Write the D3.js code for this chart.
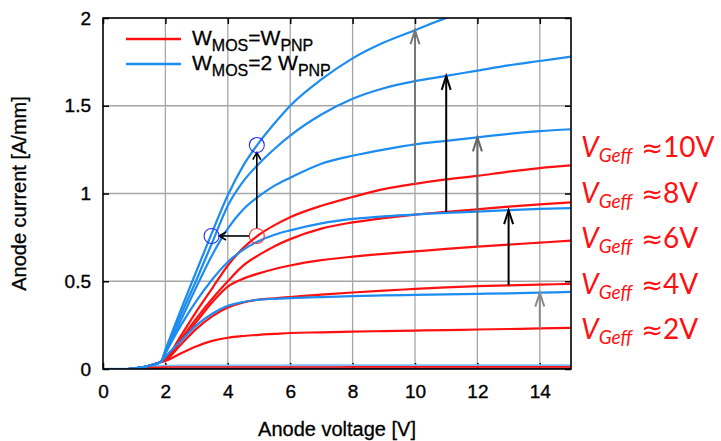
<!DOCTYPE html>
<html>
<head>
<meta charset="utf-8">
<script src="https://cdn.jsdelivr.net/npm/d3@7"></script>
<style>
  body { margin: 0; background: #fff; }
  svg { display: block; }
</style>
</head>
<body>
<div id="chart"></div>
<script>
// anode voltage sample points [V]
const vGrid = [0, 0.8, 1.2, 1.5, 1.85, 2, 2.5, 3, 3.5, 4, 4.5, 5, 5.5, 6, 7, 8, 9, 10, 11, 12, 13, 14, 15];

// anode current [A/mm], W_MOS = W_PNP
const red2  = [0, 0, 0.008, 0.02, 0.04, 0.046, 0.09, 0.13, 0.16, 0.178, 0.188, 0.195, 0.2, 0.205, 0.209, 0.213, 0.216, 0.219, 0.222, 0.225, 0.228, 0.231, 0.234];
const red4  = [0, 0, 0.008, 0.02, 0.04, 0.05, 0.14, 0.23, 0.30, 0.35, 0.38, 0.395, 0.403, 0.41, 0.424, 0.436, 0.447, 0.456, 0.465, 0.472, 0.477, 0.481, 0.485];
const red6  = [0, 0, 0.008, 0.02, 0.04, 0.052, 0.16, 0.27, 0.38, 0.47, 0.515, 0.545, 0.57, 0.59, 0.62, 0.64, 0.656, 0.67, 0.684, 0.697, 0.709, 0.72, 0.731];
const red8  = [0, 0, 0.008, 0.02, 0.04, 0.054, 0.17, 0.29, 0.40, 0.50, 0.59, 0.65, 0.70, 0.74, 0.80, 0.835, 0.86, 0.88, 0.895, 0.91, 0.925, 0.938, 0.95];
const red10 = [0, 0, 0.008, 0.02, 0.04, 0.056, 0.19, 0.33, 0.46, 0.59, 0.69, 0.765, 0.82, 0.865, 0.93, 0.98, 1.025, 1.055, 1.08, 1.10, 1.125, 1.145, 1.16];

// anode current [A/mm], W_MOS = 2 W_PNP
const blue2  = [0, 0, 0.008, 0.02, 0.04, 0.07, 0.16, 0.25, 0.315, 0.36, 0.382, 0.395, 0.4, 0.404, 0.41, 0.415, 0.419, 0.422, 0.425, 0.428, 0.431, 0.435, 0.439];
const blue4  = [0, 0, 0.008, 0.02, 0.04, 0.09, 0.25, 0.39, 0.51, 0.61, 0.68, 0.73, 0.765, 0.79, 0.83, 0.855, 0.87, 0.88, 0.89, 0.897, 0.905, 0.912, 0.917];
const blue6  = [0, 0, 0.008, 0.02, 0.04, 0.09, 0.28, 0.47, 0.65, 0.80, 0.91, 0.985, 1.045, 1.09, 1.17, 1.215, 1.25, 1.28, 1.30, 1.32, 1.34, 1.355, 1.366];
const blue8  = [0, 0, 0.008, 0.02, 0.04, 0.1, 0.31, 0.51, 0.72, 0.93, 1.07, 1.17, 1.255, 1.33, 1.45, 1.54, 1.60, 1.64, 1.67, 1.70, 1.73, 1.755, 1.78];
const blue10 = [0, 0, 0.008, 0.02, 0.04, 0.11, 0.34, 0.56, 0.78, 0.99, 1.16, 1.29, 1.40, 1.50, 1.65, 1.77, 1.86, 1.93, 2.0, 2.05, 2.09, 2.13, 2.16];

// off-state curves along the bottom
const blue0 = [0, 0, 0.006, 0.012, 0.016, 0.017, 0.018, 0.018, 0.018, 0.018, 0.018, 0.018, 0.018, 0.019, 0.019, 0.019, 0.019, 0.019, 0.019, 0.02, 0.02, 0.02, 0.02];
const red0  = [0, 0, 0.004, 0.008, 0.01, 0.011, 0.011, 0.011, 0.011, 0.011, 0.011, 0.011, 0.011, 0.011, 0.011, 0.012, 0.012, 0.012, 0.012, 0.012, 0.012, 0.012, 0.012];
const navy0 = [0, 0, 0.001, 0.002, 0.002, 0.002, 0.002, 0.002, 0.002, 0.002, 0.002, 0.002, 0.002, 0.002, 0.002, 0.002, 0.002, 0.002, 0.002, 0.002, 0.002, 0.002, 0.002];

const redSeries = [red2, red4, red6, red8, red10];
const blueSeries = [blue2, blue4, blue6, blue8, blue10];
const gateLabels = ["10", "8", "6", "4", "2"];

// arrows red -> blue at these voltages (index into series)
const arrowV = [10, 11, 12, 13, 14];
const arrowSeries = [4, 3, 2, 1, 0];
const arrowColors = ["#777", "#000", "#666", "#000", "#8a8a8a"];

// highlighted operating points
const pointV = [4.93, 3.48, 4.93];
const pointI = [0.758, 0.758, 1.276];

const xTicks = [0, 2, 4, 6, 8, 10, 12, 14];
const yTicks = [0, 0.5, 1, 1.5, 2];

const RED = "#ff1010";
const BLUE = "#1c8cf0";

const width = 721;
const height = 441;

const x = d3.scaleLinear().domain([0, 15]).range([103, 571]);
const y = d3.scaleLinear().domain([0, 2]).range([369, 18]);

const svg = d3.select("#chart").append("svg")
    .attr("width", width)
    .attr("height", height)
    .style("font-family", "'Liberation Sans', Arial, sans-serif");

svg.append("defs").append("clipPath")
    .attr("id", "plotclip")
    .append("rect")
    .attr("x", x(0)).attr("y", y(2))
    .attr("width", x(15) - x(0)).attr("height", y(0) - y(2));

// grid
const grid = svg.append("g").attr("stroke", "#a6a6a6").attr("stroke-width", 1.3);
grid.selectAll("line.v")
    .data(xTicks.filter(d => d > 0))
    .join("line")
    .attr("x1", d => x(d)).attr("x2", d => x(d))
    .attr("y1", y(0)).attr("y2", y(2));
grid.selectAll("line.h")
    .data(yTicks.filter(d => d > 0 && d < 2))
    .join("line")
    .attr("x1", x(0)).attr("x2", x(15))
    .attr("y1", d => y(d)).attr("y2", d => y(d));

// axes
const axisFont = g => g.selectAll("text")
    .attr("font-size", 19)
    .attr("fill", "#000")
    .attr("stroke", "#000")
    .attr("stroke-width", 0.35)
    .attr("font-family", "'Liberation Sans', Arial, sans-serif");

svg.append("g")
    .attr("transform", `translate(0,${y(0)})`)
    .call(d3.axisBottom(x).tickValues(xTicks).tickSizeInner(-6).tickSizeOuter(0).tickPadding(16).tickFormat(d3.format("d")))
    .call(g => g.select(".domain").remove())
    .call(g => g.selectAll("line").attr("stroke", "#000").attr("stroke-width", 1.5))
    .call(axisFont);

svg.append("g")
    .attr("transform", `translate(${x(0)},0)`)
    .call(d3.axisLeft(y).tickValues(yTicks).tickSizeInner(-6).tickSizeOuter(0).tickPadding(12).tickFormat(d => d))
    .call(g => g.select(".domain").remove())
    .call(g => g.selectAll("line").attr("stroke", "#000").attr("stroke-width", 1.5))
    .call(axisFont);

svg.append("g")
    .attr("transform", `translate(0,${y(2)})`)
    .call(d3.axisTop(x).tickValues(xTicks).tickSizeInner(-6).tickSizeOuter(0).tickFormat(""))
    .call(g => g.select(".domain").remove())
    .call(g => g.selectAll("line").attr("stroke", "#000").attr("stroke-width", 1.5));

svg.append("g")
    .attr("transform", `translate(${x(15)},0)`)
    .call(d3.axisRight(y).tickValues(yTicks).tickSizeInner(-6).tickSizeOuter(0).tickFormat(""))
    .call(g => g.select(".domain").remove())
    .call(g => g.selectAll("line").attr("stroke", "#000").attr("stroke-width", 1.5));

// curves
const line = d3.line()
    .x((d, i) => x(vGrid[i]))
    .y(d => y(d))
    .curve(d3.curveMonotoneX);

const curves = svg.append("g").attr("clip-path", "url(#plotclip)").attr("fill", "none");

curves.append("path").attr("d", line(navy0)).attr("stroke", "#2b2b7a").attr("stroke-width", 2.2);
curves.append("path").attr("d", line(blue0)).attr("stroke", "#7cbdf5").attr("stroke-width", 2.6);
curves.append("path").attr("d", line(red0)).attr("stroke", RED).attr("stroke-width", 1.6);

curves.selectAll("path.red")
    .data(redSeries)
    .join("path")
    .attr("class", "red")
    .attr("d", d => line(d))
    .attr("stroke", RED)
    .attr("stroke-width", 2.2);

curves.selectAll("path.blue")
    .data(blueSeries)
    .join("path")
    .attr("class", "blue")
    .attr("d", d => line(d))
    .attr("stroke", BLUE)
    .attr("stroke-width", 2.2);

// arrows
function arrow(g, x1, y1, x2, y2, color, headLen, headW, sw) {
    const ang = Math.atan2(y2 - y1, x2 - x1);
    const c = Math.cos(ang), s = Math.sin(ang);
    g.append("line")
        .attr("x1", x1).attr("y1", y1).attr("x2", x2).attr("y2", y2)
        .attr("stroke", color).attr("stroke-width", sw);
    const hx1 = x2 - headLen * c + headW * s, hy1 = y2 - headLen * s - headW * c;
    const hx2 = x2 - headLen * c - headW * s, hy2 = y2 - headLen * s + headW * c;
    g.append("path")
        .attr("d", `M${hx1},${hy1}L${x2},${y2}L${hx2},${hy2}`)
        .attr("fill", "none").attr("stroke", color).attr("stroke-width", sw);
}

const arrows = svg.append("g");
arrowV.forEach((v, k) => {
    const idx = vGrid.indexOf(v);
    const s = arrowSeries[k];
    arrow(arrows, x(v), y(redSeries[s][idx]), x(v), y(blueSeries[s][idx]), arrowColors[k], 14, 4.5, 2);
});

// operating points with arrows
const r = 7.5;
arrow(arrows, x(pointV[0]), y(pointI[0]) - r, x(pointV[2]), y(pointI[2]) + r, "#000", 7, 4, 1.6);
arrow(arrows, x(pointV[0]) - r, y(pointI[0]), x(pointV[1]) + r, y(pointI[1]), "#000", 7, 4, 1.6);

svg.append("g").selectAll("circle")
    .data(pointV)
    .join("circle")
    .attr("cx", d => x(d))
    .attr("cy", (d, i) => y(pointI[i]))
    .attr("r", r)
    .attr("fill", "none")
    .attr("stroke", (d, i) => i === 0 ? "#ff3030" : "#2a2aff")
    .attr("stroke-width", 1.1);

// frame
svg.append("rect")
    .attr("x", x(0)).attr("y", y(2))
    .attr("width", x(15) - x(0)).attr("height", y(0) - y(2))
    .attr("fill", "none").attr("stroke", "#000").attr("stroke-width", 1.6);

// axis titles
svg.append("text")
    .attr("x", (x(0) + x(15)) / 2).attr("y", 436)
    .attr("text-anchor", "middle").attr("font-size", 20)
    .attr("stroke", "#000").attr("stroke-width", 0.3)
    .text("Anode voltage [V]");

svg.append("text")
    .attr("transform", `translate(26,${(y(0) + y(2)) / 2}) rotate(-90)`)
    .attr("text-anchor", "middle").attr("font-size", 20)
    .attr("stroke", "#000").attr("stroke-width", 0.3)
    .text("Anode current [A/mm]");

// legend
const legend = svg.append("g");
[[RED, 39, ["W", "MOS", "=W", "PNP"]], [BLUE, 64, ["W", "MOS", "=2 W", "PNP"]]].forEach(([col, ly, parts]) => {
    legend.append("line")
        .attr("x1", 126).attr("x2", 181).attr("y1", ly).attr("y2", ly)
        .attr("stroke", col).attr("stroke-width", 2.4);
    const t = legend.append("text").attr("x", 192).attr("y", ly + 6)
        .attr("font-size", 21).attr("stroke", "#000").attr("stroke-width", 0.3);
    t.append("tspan").text(parts[0]);
    t.append("tspan").attr("font-size", 16).attr("dy", 6).text(parts[1]);
    t.append("tspan").attr("dy", -6).text(parts[2]);
    t.append("tspan").attr("font-size", 16).attr("dy", 6).text(parts[3]);
});

// gate voltage labels
const labels = svg.append("g")
    .attr("fill", RED)
    .style("font-family", "Lato, 'Open Sans', sans-serif");
gateLabels.forEach((g, i) => {
    const t = labels.append("text").attr("x", 581).attr("y", 157 + i * 45.5).attr("font-size", 28);
    t.append("tspan").attr("font-style", "italic").text("V");
    t.append("tspan").attr("font-style", "italic").attr("font-size", 19).attr("dy", 5).text("Geff");
    t.append("tspan").attr("dy", -5).attr("dx", 9)
        .attr("font-family", "'DejaVu Sans', sans-serif").attr("font-size", 26).text("≈");
    t.append("tspan").text(g + "V");
});
</script>
</body>
</html>
